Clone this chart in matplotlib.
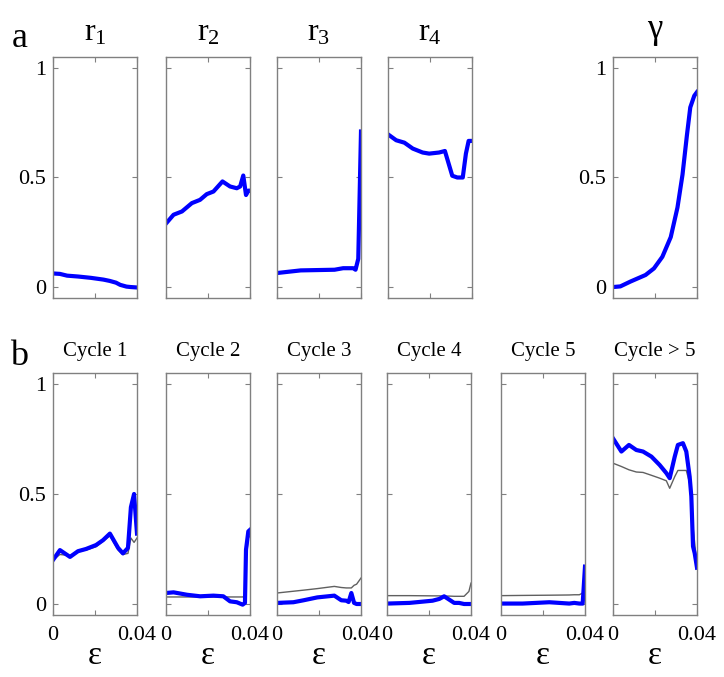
import matplotlib
matplotlib.use("Agg")
import matplotlib.pyplot as plt

plt.rcParams['font.family'] = ['Liberation Serif', 'DejaVu Serif']
plt.rcParams['mathtext.fontset'] = 'custom'
plt.rcParams['mathtext.rm'] = 'Liberation Serif'
plt.rcParams['mathtext.it'] = 'Liberation Serif'

# ---------------- data (top row: parameters vs epsilon) ----------------
r1_x = [0, 0.0033, 0.0067, 0.012, 0.018, 0.024, 0.027, 0.030, 0.032, 0.035, 0.037, 0.040]
r1_y = [0.062, 0.060, 0.052, 0.048, 0.042, 0.034, 0.028, 0.020, 0.010, 0.002, 0.0, -0.002]

r2_x = [0, 0.0036, 0.0076, 0.0123, 0.0162, 0.0194, 0.0226, 0.0269, 0.0305, 0.0337, 0.0353, 0.0368, 0.0381, 0.0392, 0.040]
r2_y = [0.29, 0.33, 0.345, 0.383, 0.398, 0.424, 0.436, 0.482, 0.459, 0.451, 0.459, 0.509, 0.42, 0.44, 0.44]

r3_x = [0, 0.0113, 0.0274, 0.0315, 0.0363, 0.0374, 0.0387, 0.0400]
r3_y = [0.064, 0.076, 0.079, 0.086, 0.086, 0.079, 0.129, 0.71]

r4_x = [0, 0.0039, 0.0078, 0.0118, 0.0165, 0.0196, 0.0243, 0.0271, 0.0306, 0.033, 0.0356, 0.0371, 0.0384, 0.040]
r4_y = [0.697, 0.67, 0.659, 0.632, 0.614, 0.609, 0.614, 0.621, 0.508, 0.50, 0.50, 0.609, 0.667, 0.667]

gamma_x = [0, 0.0035, 0.0083, 0.0155, 0.0195, 0.0235, 0.0275, 0.0307, 0.0331, 0.0352, 0.0368, 0.0387, 0.040]
gamma_y = [0.0, 0.003, 0.025, 0.055, 0.085, 0.138, 0.228, 0.363, 0.513, 0.693, 0.82, 0.873, 0.89]

# ---------------- data (bottom row: cycle fractions vs epsilon) ----------------
c1_x = [0, 0.0033, 0.0081, 0.0119, 0.0157, 0.0205, 0.0238, 0.0271, 0.031, 0.0333, 0.0357, 0.0371, 0.0386, 0.040]
c1_blue = [0.20, 0.245, 0.214, 0.24, 0.25, 0.268, 0.29, 0.32, 0.255, 0.23, 0.255, 0.44, 0.50, 0.32]
c1_gray = [0.20, 0.225, 0.22, 0.24, 0.245, 0.26, 0.285, 0.31, 0.245, 0.225, 0.23, 0.30, 0.28, 0.30]

c2_x = [0, 0.0036, 0.010, 0.0163, 0.0226, 0.0273, 0.0305, 0.0337, 0.0365, 0.0376, 0.0381, 0.0392, 0.040]
c2_blue = [0.05, 0.053, 0.042, 0.035, 0.038, 0.035, 0.012, 0.008, -0.003, 0.005, 0.247, 0.33, 0.337]
c2_gray = [0.032, 0.032, 0.032, 0.032, 0.032, 0.032, 0.032, 0.032, 0.032, 0.035, 0.2, 0.3, 0.31]

c3_x = [0, 0.0078, 0.0127, 0.0192, 0.0273, 0.0306, 0.033, 0.0341, 0.0354, 0.0367, 0.0379, 0.040]
c3_blue = [0.005, 0.008, 0.017, 0.03, 0.038, 0.017, 0.015, 0.009, 0.05, 0.005, 0.0, 0.0]
c3_gray = [0.05, 0.058, 0.063, 0.07, 0.08, 0.075, 0.073, 0.073, 0.073, 0.085, 0.09, 0.118]

c4_x = [0, 0.0107, 0.0217, 0.0249, 0.0272, 0.0296, 0.032, 0.0343, 0.0367, 0.0390, 0.040]
c4_blue = [0.002, 0.005, 0.015, 0.023, 0.035, 0.02, 0.005, 0.005, 0.0, 0.0, 0.0]
c4_gray = [0.038, 0.038, 0.037, 0.037, 0.036, 0.036, 0.035, 0.035, 0.035, 0.057, 0.095]

c5_x = [0, 0.0103, 0.023, 0.0325, 0.0349, 0.0373, 0.0389, 0.040]
c5_blue = [0.002, 0.002, 0.008, 0.002, 0.005, 0.002, 0.002, 0.17]
c5_gray = [0.038, 0.039, 0.040, 0.041, 0.042, 0.042, 0.05, 0.10]

c6_x = [0, 0.004, 0.0076, 0.0111, 0.0143, 0.0183, 0.0222, 0.0254, 0.027, 0.0294, 0.0309, 0.0333, 0.0349, 0.0365, 0.0373, 0.0381, 0.0389, 0.040]
c6_blue = [0.753, 0.693, 0.723, 0.70, 0.693, 0.67, 0.632, 0.595, 0.572, 0.67, 0.723, 0.731, 0.693, 0.579, 0.489, 0.262, 0.231, 0.165]
c6_gray = [0.64, 0.625, 0.61, 0.60, 0.598, 0.585, 0.572, 0.56, 0.526, 0.579, 0.607, 0.607, 0.607, 0.549, 0.458, 0.35, 0.277, 0.165]

top_titles = ['r$_{1}$', 'r$_{2}$', 'r$_{3}$', 'r$_{4}$', 'γ']
bottom_titles = ['Cycle 1', 'Cycle 2', 'Cycle 3', 'Cycle 4', 'Cycle 5', 'Cycle > 5']
y_ticks = [0, 0.5, 1]
y_ticklabels = ['0', '0.5', '1']
x_ticks = [0, 0.02, 0.04]
x_ticklabels = ['0', '', '0.04']

top_series = [(r1_x, r1_y), (r2_x, r2_y), (r3_x, r3_y), (r4_x, r4_y), (gamma_x, gamma_y)]
bottom_series = [(c1_x, c1_blue, c1_gray), (c2_x, c2_blue, c2_gray), (c3_x, c3_blue, c3_gray),
                 (c4_x, c4_blue, c4_gray), (c5_x, c5_blue, c5_gray), (c6_x, c6_blue, c6_gray)]

W, H = 724, 677
fig = plt.figure(figsize=(W / 100, H / 100), dpi=100)

SPINE = '#808080'
BLUE = '#0000FF'
GRAY = '#606060'


def make_ax(left, top, bottom, width=84):
    ax = fig.add_axes([left / W, 1 - bottom / H, width / W, (bottom - top) / H])
    ax.set_xlim(0, 0.04)
    ax.set_ylim(-0.05, 1.05)
    ax.set_xticks(x_ticks)
    ax.set_yticks(y_ticks)
    for s in ax.spines.values():
        s.set_color(SPINE)
        s.set_linewidth(1.0)
    ax.tick_params(direction='in', length=3.5, width=0.8, color=SPINE,
                   top=True, right=True, labelsize=16, labelcolor='black')
    return ax


top_lefts = [53, 166, 277, 388, 613]
for i, (left, (xs, ys)) in enumerate(zip(top_lefts, top_series)):
    ax = make_ax(left, 57, 298)
    ax.plot(xs, ys, color=BLUE, lw=3.0, solid_joinstyle='round')
    ax.set_xticklabels([])
    if i in (0, 4):
        ax.set_yticklabels(y_ticklabels)
        ax.tick_params(axis='y', pad=5)
    else:
        ax.set_yticklabels([])
    if i < 4:
        ax.set_title(top_titles[i], fontsize=23, pad=12)
    else:
        ax.set_title(top_titles[i], fontsize=25, pad=14)

bottom_lefts = [53, 166, 277, 387, 501, 613]
for i, (left, (xs, yb, yg)) in enumerate(zip(bottom_lefts, bottom_series)):
    ax = make_ax(left, 373, 615)
    ax.plot(xs, yg, color=GRAY, lw=1.0)
    ax.plot(xs, yb, color=BLUE, lw=3.0, solid_joinstyle='round')
    ax.set_xticklabels(x_ticklabels)
    ax.tick_params(axis='x', pad=8)
    if i == 0:
        ax.set_yticklabels(y_ticklabels)
        ax.tick_params(axis='y', pad=5)
    else:
        ax.set_yticklabels([])
    ax.set_title(bottom_titles[i], fontsize=15, pad=12)
    ax.set_xlabel('ε', fontsize=24, labelpad=-3)

fig.text(12 / W, 1 - 47 / H, 'a', fontsize=26, ha='left', va='baseline')
fig.text(10 / W, 1 - 365 / H, 'b', fontsize=26, ha='left', va='baseline')

fig.savefig('out.png', dpi=100)
